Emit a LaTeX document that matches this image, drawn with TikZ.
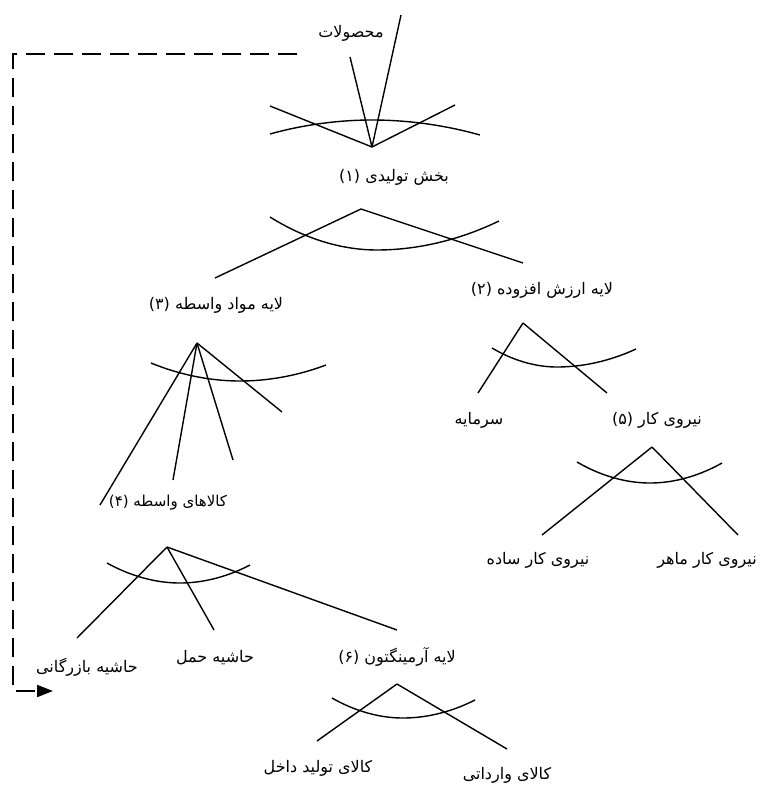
\documentclass[tikz,border=0pt]{standalone}
\usepackage{fontspec}
\usetikzlibrary{arrows.meta}
\TeXXeTstate=1
\newfontfamily\farsi[Script=Arabic]{DejaVu Sans}
\newcommand{\fatext}[1]{\beginR #1\endR}

\begin{document}
\begin{tikzpicture}[x=1pt,y=-1pt,line width=1.4pt,
  lbl/.style={font=\farsi\fontsize{16}{18}\selectfont,inner sep=0pt},
  small lbl/.style={font=\farsi\fontsize{15}{17}\selectfont,inner sep=0pt},
  feedback/.style={line width=2pt,dash pattern=on 19pt off 9pt,
    -{Triangle[length=16pt,width=12pt]}}]
  \useasboundingbox (0,0) rectangle (762,787);

  % labels
  \node[lbl] (prod) at (351,33) {\fatext{محصولات}};
  \node[lbl] (n1) at (394,177) {\fatext{بخش تولیدی (۱)}};
  \node[lbl] (n2) at (542,290) {\fatext{لایه ارزش افزوده (۲)}};
  \node[lbl] (n3) at (216,305) {\fatext{لایه مواد واسطه (۳)}};
  \node[lbl] (cap) at (479,420) {\fatext{سرمایه}};
  \node[lbl] (n5) at (657,420) {\fatext{نیروی کار (۵)}};
  \node[small lbl] (n4) at (168,503) {\fatext{کالاهای واسطه (۴)}};
  \node[lbl] (simple) at (538,560) {\fatext{نیروی کار ساده}};
  \node[lbl] (skill) at (707,560) {\fatext{نیروی کار ماهر}};
  \node[lbl] (trade) at (87,667) {\fatext{حاشیه بازرگانی}};
  \node[lbl] (trans) at (215,658) {\fatext{حاشیه حمل}};
  \node[lbl] (n6) at (397,657) {\fatext{لایه آرمینگتون (۶)}};
  \node[lbl] (dom) at (318,768) {\fatext{کالای تولید داخل}};
  \node[lbl] (imp) at (507,775) {\fatext{کالای وارداتی}};

  % apex of each fan
  \coordinate (a0) at (372,147);
  \coordinate (a1) at (361,209);
  \coordinate (a2) at (523,323);
  \coordinate (a3) at (197,343);
  \coordinate (a5) at (652,447);
  \coordinate (a4) at (167,547);
  \coordinate (a6) at (397,684);

  % free ends of the lines
  \foreach \n/\x/\y in {e01/401/15, e02/350/57, e03/270/106, e04/455/105,
      e11/215/278, e12/523/263, e21/478/393, e22/607/393,
      e31/100/505, e32/173/480, e33/233/460, e34/282/412,
      e51/542/535, e52/738/535, e41/77/638, e42/214/630, e43/397/630,
      e61/317/741, e62/507/749}
    \coordinate (\n) at (\x,\y);

  \foreach \e in {e01,e02,e03,e04} \draw (a0) -- (\e);
  \foreach \e in {e11,e12} \draw (a1) -- (\e);
  \foreach \e in {e21,e22} \draw (a2) -- (\e);
  \foreach \e in {e31,e32,e33,e34} \draw (a3) -- (\e);
  \foreach \e in {e51,e52} \draw (a5) -- (\e);
  \foreach \e in {e41,e42,e43} \draw (a4) -- (\e);
  \foreach \e in {e61,e62} \draw (a6) -- (\e);

  % arcs
  \draw (270,134) parabola bend (372,120) (480,135);
  \draw (270,217) parabola bend (377,250) (499,221);
  \draw (492,348) parabola bend (557,367) (636,349);
  \draw (151,363) parabola bend (240,381) (326,365);
  \draw (577,462) parabola bend (650,483) (722,463);
  \draw (107,563) parabola bend (180,583) (250,565);
  \draw (332,698) parabola bend (403,718) (475,700);

  % feedback loop
  \coordinate (d0) at (297,54);
  \coordinate (d1) at (13,54);
  \coordinate (d2) at (13,691);
  \coordinate (d3) at (53,691);
  \draw[feedback] (d0) -- (d1) -- (d2) -- (d3);
\end{tikzpicture}
\end{document}
